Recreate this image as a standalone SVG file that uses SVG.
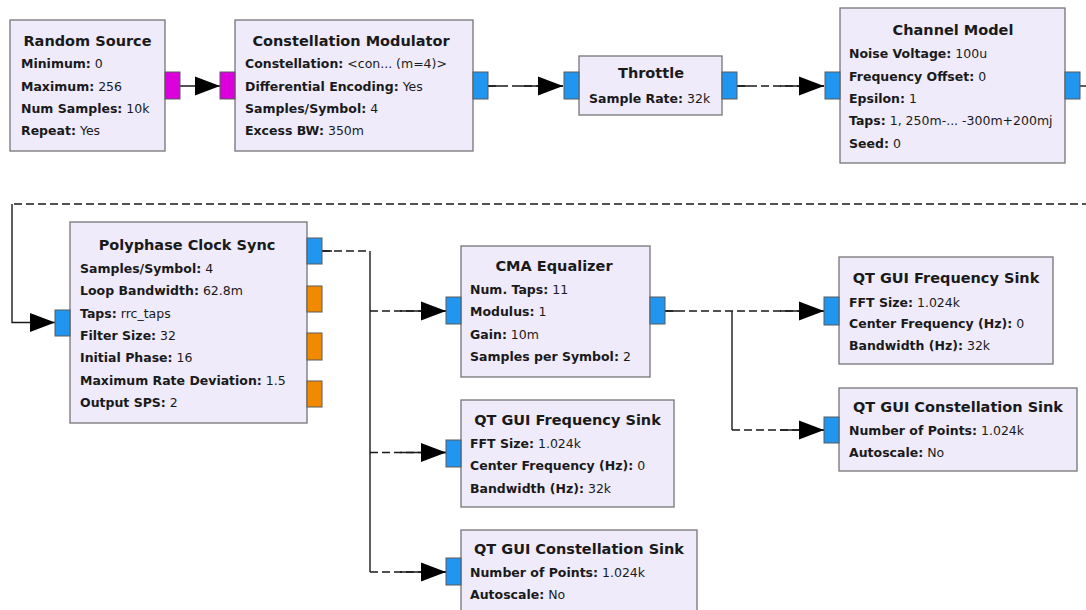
<svg xmlns="http://www.w3.org/2000/svg" width="1086" height="610" viewBox="0 0 1086 610">
<style>
.box{fill:#EFEBFB;stroke:#767676;stroke-width:1.3}
.pb{fill:#2196F0;stroke:#5a5a5a;stroke-width:1}
.pm{fill:#DC00DC;stroke:#5a5a5a;stroke-width:1}
.po{fill:#F28A00;stroke:#5a5a5a;stroke-width:1}
text{font-family:"DejaVu Sans","Liberation Sans",sans-serif;fill:#1a1a1a}
.t{font-size:14.5px;font-weight:bold;text-anchor:middle}
.l{font-size:12.5px}
.k{font-weight:bold}
.c{fill:none;stroke:#1a1a1a;stroke-width:1.4}
.d{stroke-dasharray:8,4}
</style>
<defs>
<marker id="ah" markerUnits="userSpaceOnUse" markerWidth="26" markerHeight="20" refX="25" refY="9.5" orient="auto" viewBox="0 0 26 19">
<path d="M0,0 L25,9.5 L0,19 Z" fill="#000"/>
</marker>
</defs>

<g id="connectors">
<path class="c" d="M180,86 H220" marker-end="url(#ah)"/>

<path class="c d" d="M488,86 H563"/>
<path class="c" d="M488,86 H500 M520,86 H563" marker-end="url(#ah)"/>

<path class="c d" d="M737,86 H824"/>
<path class="c" d="M737,86 H749 M780,86 H824" marker-end="url(#ah)"/>

<path class="c" d="M1080,86 H1090"/>
<path class="c d" d="M1090,204 H12"/>
<path class="c" d="M12,204 V322.5 H55" marker-end="url(#ah)"/>

<path class="c d" d="M322,251 H370"/>
<path class="c" d="M322,251 H332 M370,251 V572"/>
<path class="c d" d="M370,311 H446"/>
<path class="c" d="M400,311 H446" marker-end="url(#ah)"/>
<path class="c d" d="M370,452.5 H446"/>
<path class="c" d="M400,452.5 H446" marker-end="url(#ah)"/>
<path class="c d" d="M370,572 H446"/>
<path class="c" d="M400,572 H446" marker-end="url(#ah)"/>

<path class="c d" d="M665,311 H824"/>
<path class="c" d="M665,311 H677 M780,311 H824" marker-end="url(#ah)"/>
<path class="c" d="M732,311 V430"/>
<path class="c d" d="M732,430 H824"/>
<path class="c" d="M780,430 H824" marker-end="url(#ah)"/>
</g>

<g id="random_source">
<rect class="box" x="10" y="20" width="155" height="131"/>
<rect class="pm" x="165" y="72" width="15" height="27"/>
<text class="t" x="87.5" y="46">Random Source</text>
<text class="l" x="21" y="67.5"><tspan class="k">Minimum:</tspan> 0</text>
<text class="l" x="21" y="90.5"><tspan class="k">Maximum:</tspan> 256</text>
<text class="l" x="21" y="112.5"><tspan class="k">Num Samples:</tspan> 10k</text>
<text class="l" x="21" y="134.5"><tspan class="k">Repeat:</tspan> Yes</text>
</g>

<g id="constellation_modulator">
<rect class="box" x="235" y="20" width="238" height="131"/>
<rect class="pm" x="220" y="72" width="15" height="27"/>
<rect class="pb" x="473" y="72" width="15" height="27"/>
<text class="t" x="351" y="46">Constellation Modulator</text>
<text class="l" x="245" y="67.5"><tspan class="k">Constellation:</tspan> &lt;con... (m=4)&gt;</text>
<text class="l" x="245" y="90.5"><tspan class="k">Differential Encoding:</tspan> Yes</text>
<text class="l" x="245" y="112.5"><tspan class="k">Samples/Symbol:</tspan> 4</text>
<text class="l" x="245" y="134.5"><tspan class="k">Excess BW:</tspan> 350m</text>
</g>

<g id="throttle">
<rect class="box" x="579" y="56" width="143" height="59"/>
<rect class="pb" x="564" y="72" width="15" height="27"/>
<rect class="pb" x="722" y="72" width="15" height="27"/>
<text class="t" x="651" y="78">Throttle</text>
<text class="l" x="589" y="102.5"><tspan class="k">Sample Rate:</tspan> 32k</text>
</g>

<g id="channel_model">
<rect class="box" x="840" y="8" width="225" height="155"/>
<rect class="pb" x="825" y="72" width="15" height="27"/>
<rect class="pb" x="1065" y="72" width="15" height="27"/>
<text class="t" x="953" y="35">Channel Model</text>
<text class="l" x="849" y="57.5"><tspan class="k">Noise Voltage:</tspan> 100u</text>
<text class="l" x="849" y="80.5"><tspan class="k">Frequency Offset:</tspan> 0</text>
<text class="l" x="849" y="102.5"><tspan class="k">Epsilon:</tspan> 1</text>
<text class="l" x="849" y="124.5"><tspan class="k">Taps:</tspan> 1, 250m-... -300m+200mj</text>
<text class="l" x="849" y="147.5"><tspan class="k">Seed:</tspan> 0</text>
</g>

<g id="polyphase_clock_sync">
<rect class="box" x="70" y="222" width="237" height="201"/>
<rect class="pb" x="55" y="310" width="15" height="26"/>
<rect class="pb" x="307" y="238" width="15" height="26"/>
<rect class="po" x="307" y="286" width="15" height="26"/>
<rect class="po" x="307" y="333" width="15" height="27"/>
<rect class="po" x="307" y="381" width="15" height="26"/>
<text class="t" x="187" y="250">Polyphase Clock Sync</text>
<text class="l" x="80" y="272.5"><tspan class="k">Samples/Symbol:</tspan> 4</text>
<text class="l" x="80" y="294.5"><tspan class="k">Loop Bandwidth:</tspan> 62.8m</text>
<text class="l" x="80" y="317.5"><tspan class="k">Taps:</tspan> rrc_taps</text>
<text class="l" x="80" y="339.5"><tspan class="k">Filter Size:</tspan> 32</text>
<text class="l" x="80" y="361.5"><tspan class="k">Initial Phase:</tspan> 16</text>
<text class="l" x="80" y="384.5"><tspan class="k">Maximum Rate Deviation:</tspan> 1.5</text>
<text class="l" x="80" y="406.5"><tspan class="k">Output SPS:</tspan> 2</text>
</g>

<g id="cma_equalizer">
<rect class="box" x="461" y="246" width="189" height="131"/>
<rect class="pb" x="446" y="297" width="15" height="27"/>
<rect class="pb" x="650" y="297" width="15" height="27"/>
<text class="t" x="554" y="271">CMA Equalizer</text>
<text class="l" x="470" y="293.5"><tspan class="k">Num. Taps:</tspan> 11</text>
<text class="l" x="470" y="315.5"><tspan class="k">Modulus:</tspan> 1</text>
<text class="l" x="470" y="338.5"><tspan class="k">Gain:</tspan> 10m</text>
<text class="l" x="470" y="360.5"><tspan class="k">Samples per Symbol:</tspan> 2</text>
</g>

<g id="qt_freq_sink_1">
<rect class="box" x="839" y="257" width="214" height="107"/>
<rect class="pb" x="824" y="297" width="15" height="28"/>
<text class="t" x="946" y="283">QT GUI Frequency Sink</text>
<text class="l" x="849" y="306.5"><tspan class="k">FFT Size:</tspan> 1.024k</text>
<text class="l" x="849" y="327.5"><tspan class="k">Center Frequency (Hz):</tspan> 0</text>
<text class="l" x="849" y="349.5"><tspan class="k">Bandwidth (Hz):</tspan> 32k</text>
</g>

<g id="qt_const_sink_1">
<rect class="box" x="839" y="388" width="238" height="83"/>
<rect class="pb" x="824" y="417" width="15" height="26"/>
<text class="t" x="958" y="412">QT GUI Constellation Sink</text>
<text class="l" x="849" y="434.5"><tspan class="k">Number of Points:</tspan> 1.024k</text>
<text class="l" x="849" y="456.5"><tspan class="k">Autoscale:</tspan> No</text>
</g>

<g id="qt_freq_sink_2">
<rect class="box" x="461" y="400" width="213" height="107"/>
<rect class="pb" x="446" y="440" width="15" height="27"/>
<text class="t" x="567.5" y="425">QT GUI Frequency Sink</text>
<text class="l" x="470" y="447.5"><tspan class="k">FFT Size:</tspan> 1.024k</text>
<text class="l" x="470" y="469.5"><tspan class="k">Center Frequency (Hz):</tspan> 0</text>
<text class="l" x="470" y="492.5"><tspan class="k">Bandwidth (Hz):</tspan> 32k</text>
</g>

<g id="qt_const_sink_2">
<rect class="box" x="461" y="530" width="236" height="100"/>
<rect class="pb" x="446" y="558" width="15" height="27"/>
<text class="t" x="579" y="554">QT GUI Constellation Sink</text>
<text class="l" x="470" y="576.5"><tspan class="k">Number of Points:</tspan> 1.024k</text>
<text class="l" x="470" y="598.5"><tspan class="k">Autoscale:</tspan> No</text>
</g>
</svg>
